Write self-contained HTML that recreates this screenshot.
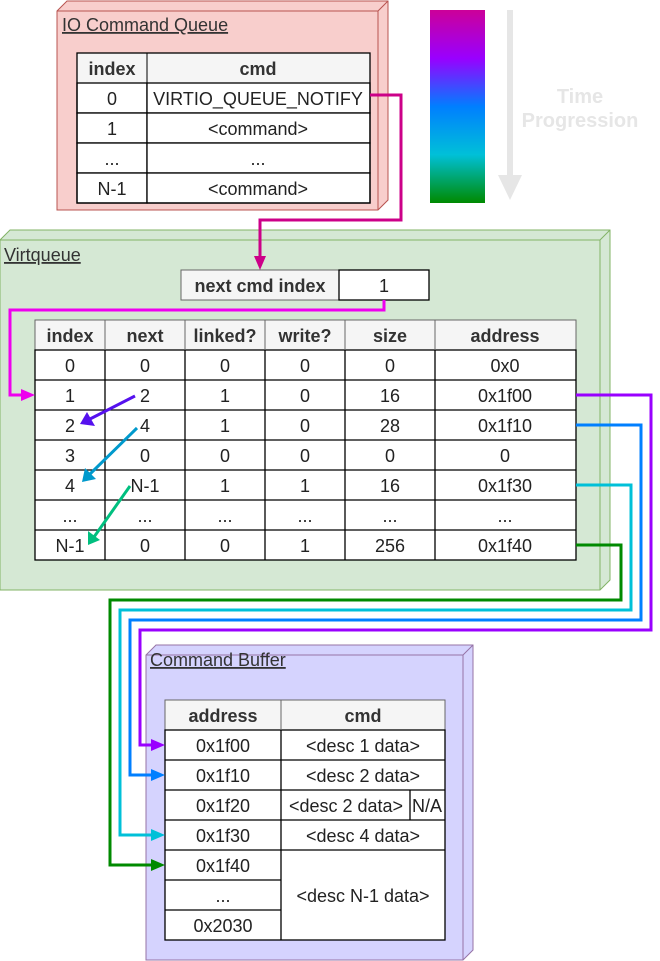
<!DOCTYPE html>
<html><head><meta charset="utf-8"><style>
html,body{margin:0;padding:0;background:#fff;}
svg{display:block;font-family:"Liberation Sans",Arial,sans-serif;}
.t{font-size:18px;fill:#222;text-anchor:middle;}
.h{font-size:18px;fill:#333;font-weight:bold;text-anchor:middle;}
.cell{fill:#fff;stroke:#000;stroke-width:1.3;}
.hd{fill:#f5f5f5;stroke:#666;stroke-width:1;}
.ti{font-size:18px;fill:#333;text-decoration:underline;}
</style></head><body>
<svg width="660" height="961" viewBox="0 0 660 961" xmlns="http://www.w3.org/2000/svg">
<defs>
<linearGradient id="g" x1="0" y1="0" x2="0" y2="1">
<stop offset="0" stop-color="#cc0099"/><stop offset="0.25" stop-color="#9900ff"/>
<stop offset="0.5" stop-color="#007fff"/><stop offset="0.75" stop-color="#00c0d8"/>
<stop offset="1" stop-color="#008a00"/></linearGradient>
</defs>

<!-- IO Command Queue -->
<path d="M57,11 L67,1 L388,1 L388,200 L378,210 L57,210 Z" fill="#f8cecc" stroke="#b85450"/>
<path d="M57,11 L378,11 L388,1 M378,11 L378,210" fill="none" stroke="#b85450"/>
<text x="62" y="31" class="ti">IO Command Queue</text>
<rect x="77" y="53" width="293" height="30" class="hd"/>
<rect x="77" y="83" width="70" height="30" class="cell"/><rect x="147" y="83" width="223" height="30" class="cell"/>
<rect x="77" y="113" width="70" height="30" class="cell"/><rect x="147" y="113" width="223" height="30" class="cell"/>
<rect x="77" y="143" width="70" height="30" class="cell"/><rect x="147" y="143" width="223" height="30" class="cell"/>
<rect x="77" y="173" width="70" height="30" class="cell"/><rect x="147" y="173" width="223" height="30" class="cell"/>
<rect x="77" y="53" width="293" height="150" fill="none" stroke="#000" stroke-width="1.3"/>
<line x1="147" y1="53" x2="147" y2="83" stroke="#000"/>
<text x="112" y="75" class="h">index</text><text x="258" y="75" class="h">cmd</text>
<text x="112" y="105" class="t">0</text><text x="258" y="105" class="t">VIRTIO_QUEUE_NOTIFY</text>
<text x="112" y="135" class="t">1</text><text x="258" y="135" class="t">&lt;command&gt;</text>
<text x="112" y="165" class="t">...</text><text x="258" y="165" class="t">...</text>
<text x="112" y="195" class="t">N-1</text><text x="258" y="195" class="t">&lt;command&gt;</text>

<!-- Time bar -->
<rect x="430" y="10" width="55" height="193" fill="url(#g)"/>
<line x1="510" y1="10" x2="510" y2="180" stroke="#e6e6e6" stroke-width="6"/>
<polygon points="498,175 522,175 510,200" fill="#e6e6e6"/>
<text x="580" y="103" style="font-size:20px;font-weight:bold;fill:#e6e6e6;text-anchor:middle">Time</text>
<text x="580" y="127" style="font-size:20px;font-weight:bold;fill:#e6e6e6;text-anchor:middle">Progression</text>

<!-- Virtqueue -->
<path d="M0,240 L10,230 L610,230 L610,580 L600,590 L0,590 Z" fill="#d5e8d4" stroke="#82b366"/>
<path d="M0,240 L600,240 L610,230 M600,240 L600,590" fill="none" stroke="#82b366"/>
<text x="4" y="261" class="ti">Virtqueue</text>
<rect x="181" y="270" width="158" height="30" class="hd"/>
<text x="260" y="292" class="h">next cmd index</text>
<rect x="339" y="270" width="90" height="30" class="cell"/>
<text x="384" y="292" class="t">1</text>

<rect x="35" y="320" width="541" height="30" class="hd"/>
<rect x="35" y="350" width="541" height="210" class="cell"/>
<g stroke="#000" stroke-width="1.3">
<line x1="35" y1="380" x2="576" y2="380"/><line x1="35" y1="410" x2="576" y2="410"/>
<line x1="35" y1="440" x2="576" y2="440"/><line x1="35" y1="470" x2="576" y2="470"/>
<line x1="35" y1="500" x2="576" y2="500"/><line x1="35" y1="530" x2="576" y2="530"/>
<line x1="105" y1="350" x2="105" y2="560"/><line x1="185" y1="350" x2="185" y2="560"/>
<line x1="265" y1="350" x2="265" y2="560"/><line x1="345" y1="350" x2="345" y2="560"/>
<line x1="435" y1="350" x2="435" y2="560"/>
</g>
<g stroke="#666" stroke-width="1">
<line x1="105" y1="320" x2="105" y2="350"/><line x1="185" y1="320" x2="185" y2="350"/>
<line x1="265" y1="320" x2="265" y2="350"/><line x1="345" y1="320" x2="345" y2="350"/>
<line x1="435" y1="320" x2="435" y2="350"/>
</g>
<g class="h">
<text x="70" y="342">index</text><text x="145" y="342">next</text><text x="225" y="342">linked?</text>
<text x="305" y="342">write?</text><text x="390" y="342">size</text><text x="505" y="342">address</text>
</g>
<g class="t">
<text x="70" y="372">0</text><text x="145" y="372">0</text><text x="225" y="372">0</text><text x="305" y="372">0</text><text x="390" y="372">0</text><text x="505" y="372">0x0</text>
<text x="70" y="402">1</text><text x="145" y="402">2</text><text x="225" y="402">1</text><text x="305" y="402">0</text><text x="390" y="402">16</text><text x="505" y="402">0x1f00</text>
<text x="70" y="432">2</text><text x="145" y="432">4</text><text x="225" y="432">1</text><text x="305" y="432">0</text><text x="390" y="432">28</text><text x="505" y="432">0x1f10</text>
<text x="70" y="462">3</text><text x="145" y="462">0</text><text x="225" y="462">0</text><text x="305" y="462">0</text><text x="390" y="462">0</text><text x="505" y="462">0</text>
<text x="70" y="492">4</text><text x="145" y="492">N-1</text><text x="225" y="492">1</text><text x="305" y="492">1</text><text x="390" y="492">16</text><text x="505" y="492">0x1f30</text>
<text x="70" y="522">...</text><text x="145" y="522">...</text><text x="225" y="522">...</text><text x="305" y="522">...</text><text x="390" y="522">...</text><text x="505" y="522">...</text>
<text x="70" y="552">N-1</text><text x="145" y="552">0</text><text x="225" y="552">0</text><text x="305" y="552">1</text><text x="390" y="552">256</text><text x="505" y="552">0x1f40</text>
</g>

<!-- Command Buffer -->
<path d="M146,655 L156,645 L473,645 L473,950 L463,960 L146,960 Z" fill="#d5d3fe" stroke="#9673a6"/>
<path d="M146,655 L463,655 L473,645 M463,655 L463,960" fill="none" stroke="#9673a6"/>
<text x="150" y="666" class="ti">Command Buffer</text>
<rect x="165" y="700" width="280" height="30" class="hd"/>
<rect x="165" y="730" width="280" height="210" class="cell"/>
<g stroke="#000" stroke-width="1.3">
<line x1="165" y1="760" x2="445" y2="760"/><line x1="165" y1="790" x2="445" y2="790"/>
<line x1="165" y1="820" x2="445" y2="820"/><line x1="165" y1="850" x2="445" y2="850"/>
<line x1="165" y1="880" x2="281" y2="880"/><line x1="165" y1="910" x2="281" y2="910"/>
<line x1="281" y1="730" x2="281" y2="940"/><line x1="410" y1="790" x2="410" y2="820"/>
</g>
<line x1="281" y1="700" x2="281" y2="730" stroke="#666"/>
<text x="223" y="722" class="h">address</text><text x="363" y="722" class="h">cmd</text>
<g class="t">
<text x="223" y="752">0x1f00</text><text x="363" y="752">&lt;desc 1 data&gt;</text>
<text x="223" y="782">0x1f10</text><text x="363" y="782">&lt;desc 2 data&gt;</text>
<text x="223" y="812">0x1f20</text><text x="346" y="812">&lt;desc 2 data&gt;</text><text x="427" y="812">N/A</text>
<text x="223" y="842">0x1f30</text><text x="363" y="842">&lt;desc 4 data&gt;</text>
<text x="223" y="872">0x1f40</text><text x="363" y="902">&lt;desc N-1 data&gt;</text>
<text x="223" y="902">...</text>
<text x="223" y="932">0x2030</text>
</g>

<!-- connectors -->
<g fill="none" stroke-width="3">
<polyline points="370,95 401,95 401,220 260,220 260,258" stroke="#cc0088"/>
<polyline points="384,300 384,310 10,310 10,395 24,395" stroke="#ee00ee"/>
<polyline points="576,395 651,395 651,630 140,630 140,745 154,745" stroke="#9900ff"/>
<polyline points="576,425 641,425 641,620 130,620 130,775 154,775" stroke="#007fff"/>
<polyline points="576,485 631,485 631,610 120,610 120,835 154,835" stroke="#00c0d8"/>
<polyline points="576,545 621,545 621,600 110,600 110,865 154,865" stroke="#008a00"/>
<line x1="135" y1="396" x2="90" y2="419" stroke="#5511ee"/>
<line x1="137" y1="428" x2="90" y2="474" stroke="#0099cc"/>
<line x1="130" y1="486" x2="94" y2="537" stroke="#00bf7f"/>
</g>
<polygon points="254,256 266,256 260,270" fill="#cc0088"/>
<polygon points="21,389 35,395 21,401" fill="#ee00ee"/>
<polygon points="151,739 165,745 151,751" fill="#9900ff"/>
<polygon points="151,769 165,775 151,781" fill="#007fff"/>
<polygon points="151,829 165,835 151,841" fill="#00c0d8"/>
<polygon points="151,859 165,865 151,871" fill="#008a00"/>
<polygon points="80,424 87,412 95,426" fill="#5511ee"/>
<polygon points="82,482 85,468 96,479" fill="#0099cc"/>
<polygon points="88,545 88,531 100,540" fill="#00bf7f"/>
</svg>
</body></html>
